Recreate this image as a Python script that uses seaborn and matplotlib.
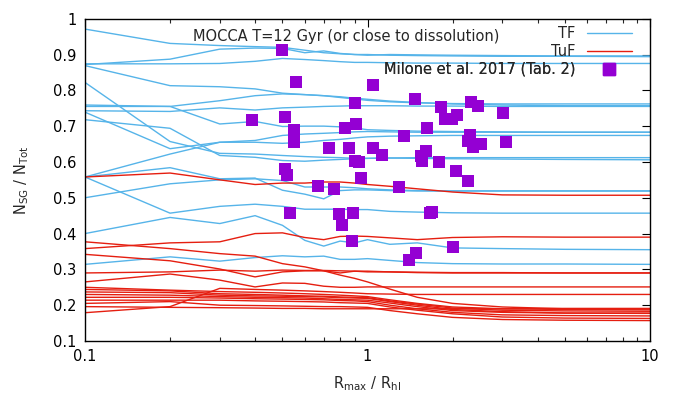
import numpy as np
import pandas as pd
import matplotlib
matplotlib.use("Agg")
import matplotlib.pyplot as plt
from matplotlib.lines import Line2D
import seaborn as sns

sns.set_theme(style="white")
plt.rcParams['font.family'] = ['DejaVu Sans']
plt.rcParams['mathtext.fontset'] = 'dejavusans'

# R_max / R_hl nodes shared by all model curves
x_nodes = [0.1, 0.2, 0.3, 0.4, 0.5, 0.6, 0.7, 0.8, 0.9, 1.0, 1.2, 1.5, 2.0, 3.0, 5.0, 10.0]

# TF models (N_SG / N_Tot)
tf_01 = [0.971, 0.931, 0.925, 0.922, 0.920, 0.912, 0.905, 0.902, 0.900, 0.900, 0.898, 0.897, 0.896, 0.895, 0.895, 0.894]
tf_02 = [0.872, 0.887, 0.915, 0.918, 0.917, 0.905, 0.910, 0.903, 0.900, 0.898, 0.900, 0.899, 0.898, 0.897, 0.896, 0.896]
tf_03 = [0.874, 0.874, 0.875, 0.881, 0.889, 0.886, 0.883, 0.880, 0.878, 0.878, 0.877, 0.876, 0.876, 0.875, 0.875, 0.875]
tf_04 = [0.869, 0.813, 0.810, 0.804, 0.792, 0.788, 0.785, 0.780, 0.776, 0.772, 0.768, 0.765, 0.763, 0.762, 0.762, 0.762]
tf_05 = [0.759, 0.755, 0.771, 0.785, 0.790, 0.788, 0.785, 0.782, 0.778, 0.775, 0.770, 0.766, 0.762, 0.759, 0.757, 0.757]
tf_06 = [0.743, 0.741, 0.751, 0.745, 0.751, 0.753, 0.755, 0.756, 0.757, 0.757, 0.757, 0.756, 0.756, 0.755, 0.755, 0.755]
tf_07 = [0.755, 0.755, 0.706, 0.713, 0.699, 0.700, 0.700, 0.698, 0.695, 0.690, 0.688, 0.686, 0.685, 0.684, 0.683, 0.683]
tf_08 = [0.822, 0.657, 0.624, 0.622, 0.618, 0.615, 0.613, 0.612, 0.610, 0.610, 0.611, 0.610, 0.609, 0.608, 0.607, 0.606]
tf_09 = [0.718, 0.694, 0.618, 0.613, 0.604, 0.602, 0.605, 0.607, 0.609, 0.610, 0.611, 0.612, 0.612, 0.612, 0.612, 0.612]
tf_10 = [0.739, 0.637, 0.655, 0.655, 0.652, 0.655, 0.660, 0.663, 0.667, 0.670, 0.672, 0.673, 0.674, 0.674, 0.674, 0.674]
tf_11 = [0.558, 0.622, 0.655, 0.660, 0.674, 0.678, 0.680, 0.682, 0.684, 0.685, 0.684, 0.683, 0.683, 0.683, 0.683, 0.683]
tf_12 = [0.558, 0.584, 0.553, 0.555, 0.521, 0.510, 0.497, 0.520, 0.522, 0.522, 0.520, 0.519, 0.519, 0.519, 0.519, 0.519]
tf_13 = [0.500, 0.539, 0.550, 0.553, 0.548, 0.530, 0.530, 0.530, 0.528, 0.525, 0.522, 0.520, 0.519, 0.519, 0.519, 0.519]
tf_14 = [0.558, 0.457, 0.476, 0.482, 0.476, 0.468, 0.468, 0.468, 0.467, 0.467, 0.462, 0.460, 0.458, 0.457, 0.457, 0.457]
tf_15 = [0.400, 0.445, 0.428, 0.450, 0.423, 0.381, 0.365, 0.379, 0.374, 0.383, 0.370, 0.374, 0.360, 0.358, 0.356, 0.355]
tf_16 = [0.314, 0.335, 0.323, 0.333, 0.338, 0.335, 0.337, 0.328, 0.328, 0.330, 0.325, 0.319, 0.316, 0.315, 0.315, 0.314]

# TuF models
tuf_01 = [0.558, 0.569, 0.550, 0.537, 0.541, 0.541, 0.544, 0.544, 0.541, 0.537, 0.532, 0.525, 0.516, 0.508, 0.507, 0.507]
tuf_02 = [0.358, 0.374, 0.377, 0.400, 0.402, 0.389, 0.383, 0.392, 0.393, 0.392, 0.388, 0.383, 0.389, 0.391, 0.390, 0.390]
tuf_03 = [0.377, 0.358, 0.344, 0.337, 0.316, 0.307, 0.296, 0.284, 0.275, 0.265, 0.245, 0.222, 0.205, 0.195, 0.190, 0.189]
tuf_04 = [0.342, 0.324, 0.301, 0.279, 0.293, 0.296, 0.296, 0.290, 0.295, 0.293, 0.293, 0.291, 0.290, 0.290, 0.290, 0.290]
tuf_05 = [0.290, 0.293, 0.298, 0.295, 0.298, 0.297, 0.297, 0.296, 0.295, 0.295, 0.293, 0.292, 0.291, 0.291, 0.290, 0.290]
tuf_06 = [0.265, 0.287, 0.270, 0.251, 0.262, 0.261, 0.253, 0.250, 0.250, 0.251, 0.251, 0.251, 0.251, 0.251, 0.251, 0.251]
tuf_07 = [0.179, 0.196, 0.247, 0.244, 0.242, 0.240, 0.238, 0.236, 0.234, 0.232, 0.231, 0.230, 0.230, 0.230, 0.230, 0.230]
tuf_08 = [0.250, 0.242, 0.238, 0.236, 0.234, 0.232, 0.230, 0.228, 0.226, 0.224, 0.215, 0.205, 0.195, 0.190, 0.188, 0.187]
tuf_09 = [0.244, 0.240, 0.232, 0.230, 0.228, 0.226, 0.225, 0.223, 0.222, 0.221, 0.212, 0.203, 0.192, 0.186, 0.184, 0.183]
tuf_10 = [0.237, 0.235, 0.228, 0.226, 0.225, 0.224, 0.223, 0.221, 0.220, 0.219, 0.210, 0.200, 0.188, 0.182, 0.178, 0.177]
tuf_11 = [0.230, 0.228, 0.224, 0.222, 0.221, 0.220, 0.218, 0.216, 0.215, 0.214, 0.206, 0.196, 0.185, 0.180, 0.178, 0.178]
tuf_12 = [0.222, 0.222, 0.220, 0.218, 0.217, 0.216, 0.215, 0.213, 0.212, 0.210, 0.200, 0.190, 0.180, 0.173, 0.171, 0.170]
tuf_13 = [0.214, 0.214, 0.214, 0.212, 0.211, 0.210, 0.209, 0.207, 0.206, 0.205, 0.195, 0.186, 0.176, 0.167, 0.164, 0.163]
tuf_14 = [0.205, 0.210, 0.200, 0.199, 0.198, 0.197, 0.196, 0.196, 0.195, 0.194, 0.185, 0.176, 0.166, 0.160, 0.158, 0.157]
tuf_15 = [0.196, 0.194, 0.193, 0.192, 0.191, 0.191, 0.190, 0.190, 0.190, 0.190, 0.190, 0.190, 0.190, 0.190, 0.191, 0.191]

# Milone et al. 2017 (Tab. 2) observations
obs_x = [0.50, 0.56, 1.05, 0.90, 0.39, 0.51, 0.55, 0.55, 0.83, 0.91, 0.73, 0.86, 1.05, 1.13,
         0.90, 0.93, 0.51, 0.52, 0.95, 0.67, 0.76, 1.29, 0.53, 0.79, 0.89, 0.81, 0.88,
         1.47, 1.82, 2.32, 2.46, 3.01, 1.88, 2.08, 1.99, 1.63, 1.35, 2.31, 2.26, 2.36, 2.52,
         3.09, 1.61, 1.55, 1.56, 1.79, 2.06, 2.27, 1.69, 1.66, 2.01, 1.49, 1.40]
obs_y = [0.913, 0.824, 0.815, 0.764, 0.716, 0.725, 0.690, 0.655, 0.695, 0.706, 0.639, 0.638, 0.639, 0.619,
         0.604, 0.599, 0.581, 0.563, 0.555, 0.533, 0.525, 0.530, 0.457, 0.454, 0.457, 0.425, 0.378,
         0.775, 0.753, 0.766, 0.755, 0.736, 0.720, 0.732, 0.720, 0.695, 0.672, 0.674, 0.658, 0.643, 0.649,
         0.655, 0.630, 0.617, 0.602, 0.601, 0.574, 0.547, 0.461, 0.457, 0.363, 0.346, 0.326]

tf_models = [tf_01, tf_02, tf_03, tf_04, tf_05, tf_06, tf_07, tf_08, tf_09, tf_10, tf_11, tf_12, tf_13, tf_14, tf_15, tf_16]
tuf_models = [tuf_01, tuf_02, tuf_03, tuf_04, tuf_05, tuf_06, tuf_07, tuf_08, tuf_09, tuf_10, tuf_11, tuf_12, tuf_13, tuf_14, tuf_15]

rows = []
for i, m in enumerate(tf_models):
    for xv, yv in zip(x_nodes, m):
        rows.append(dict(x=xv, y=yv, model=f"TF{i}", kind="TF"))
for i, m in enumerate(tuf_models):
    for xv, yv in zip(x_nodes, m):
        rows.append(dict(x=xv, y=yv, model=f"TuF{i}", kind="TuF"))
df = pd.DataFrame(rows)
obs = pd.DataFrame(dict(x=obs_x, y=obs_y))

BLUE = "#56B4E9"
RED = "#E51E10"
PURPLE = "#9400D3"
FS = 10.5

fig = plt.figure(figsize=(6.78, 3.95), dpi=100)
ax = fig.add_axes([85/678, 1-341/395, 565/678, (341-18.7)/395])

sns.lineplot(data=df[df.kind == "TF"], x="x", y="y", units="model", estimator=None,
             color=BLUE, lw=1.0, ax=ax, legend=False, sort=True)
sns.lineplot(data=df[df.kind == "TuF"], x="x", y="y", units="model", estimator=None,
             color=RED, lw=1.0, ax=ax, legend=False, sort=True)
sns.scatterplot(data=obs, x="x", y="y", marker="s", s=80, color=PURPLE, linewidth=0,
                ax=ax, legend=False, zorder=5)

ax.set_xscale("log")
ax.set_xlim(0.1, 10)
ax.set_ylim(0.1, 1.0)
ax.set_xticks([0.1, 1, 10])
ax.set_xticklabels(["0.1", "1", "10"])
ax.set_yticks(np.arange(0.1, 1.01, 0.1))
ax.set_yticklabels(["0.1", "0.2", "0.3", "0.4", "0.5", "0.6", "0.7", "0.8", "0.9", "1"])
ax.tick_params(axis="both", which="major", direction="in", length=6, width=0.8,
               top=True, right=True, labelsize=FS, colors="black", pad=6)
ax.tick_params(axis="x", which="minor", direction="in", length=3, width=0.8, top=True, bottom=True)
ax.tick_params(axis="y", which="minor", left=False, right=False)
for sp in ax.spines.values():
    sp.set_color("black")
    sp.set_linewidth(1.0)

ax.set_xlabel(r"R$_{\rm max}$ / R$_{\rm hl}$", fontsize=FS, labelpad=7)
ax.set_ylabel(r"N$_{\rm SG}$ / N$_{\rm Tot}$", fontsize=FS, labelpad=16)

ax.text((192.7-85)/565, (341-37)/322.3, "MOCCA T=12 Gyr (or close to dissolution)",
        transform=ax.transAxes, ha="left", va="center", fontsize=FS)

# legend: three right-aligned single entries (gnuplot style)
entries = [
    (Line2D([], [], color=BLUE, lw=1.0), "TF", (341-33.5)/322.3),
    (Line2D([], [], color=RED, lw=1.0), "TuF", (341-51.5)/322.3),
    (Line2D([], [], color=PURPLE, marker="s", ms=9, lw=0), "Milone et al. 2017 (Tab. 2)", (341-69.5)/322.3),
]
for h, lab, yy in entries:
    leg = ax.legend([h], [lab], loc="center right", bbox_to_anchor=((632-85)/565, yy),
                    bbox_transform=ax.transAxes, frameon=False, markerfirst=False,
                    borderpad=0, borderaxespad=0, handlelength=3.1, handletextpad=0.8,
                    fontsize=FS)
    ax.add_artist(leg)

fig.savefig("out.png", dpi=100)
